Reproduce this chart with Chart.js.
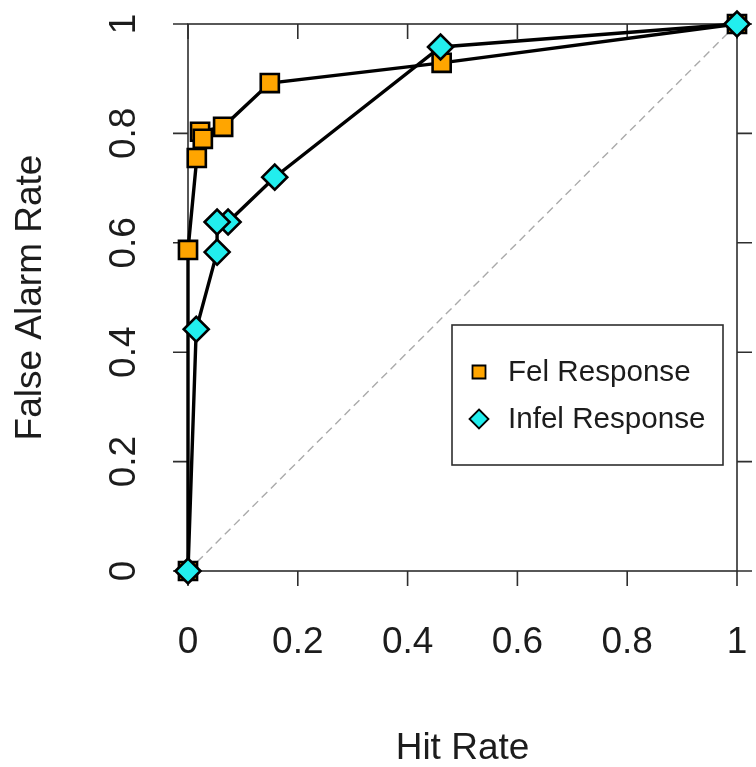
<!DOCTYPE html>
<html><head><meta charset="utf-8">
<script src="https://cdn.jsdelivr.net/npm/chart.js@4/dist/chart.umd.min.js"></script>
<style>html,body{margin:0;padding:0;background:#fff}canvas{display:block}</style>
</head><body>
<canvas id="c" width="756" height="767"></canvas>
<script>
// ---- data ----
const tickValues = [0, 0.2, 0.4, 0.6, 0.8, 1];
const tickLabels = ['0', '0.2', '0.4', '0.6', '0.8', '1'];
const felHit   = [1, 0.462, 0.149, 0.064, 0.022, 0.027, 0.016, 0, 0];
const felFA    = [1, 0.929, 0.892, 0.812, 0.803, 0.790, 0.755, 0.587, 0];
const infelHit = [1, 0.460, 0.158, 0.073, 0.053, 0.053, 0.015, 0];
const infelFA  = [1, 0.958, 0.720, 0.638, 0.638, 0.583, 0.442, 0];
const chanceLine = [0, 1];
const seriesNames = ['Fel Response', 'Infel Response'];
const xTitle = 'Hit Rate';
const yTitle = 'False Alarm Rate';

const FONT = "'Liberation Sans', Arial, Helvetica, sans-serif";
const TXT = '#1c1c1c';
const AX = '#2e2e2e';
const ORANGE = '#FFA500';
const CYAN = '#22EEEE';

const pts = (xs, ys) => xs.map((x, i) => ({x, y: ys[i]}));
const labelFor = v => { const i = tickValues.findIndex(t => Math.abs(t - v) < 1e-9); return i >= 0 ? tickLabels[i] : String(v); };

function drawMarker(ctx, style, x, y, r, fill, lw) {
  ctx.save();
  ctx.beginPath();
  if (style === 'rect') {
    ctx.rect(x - r, y - r, 2 * r, 2 * r);
  } else {
    ctx.moveTo(x, y - r); ctx.lineTo(x + r, y); ctx.lineTo(x, y + r); ctx.lineTo(x - r, y); ctx.closePath();
  }
  ctx.fillStyle = fill; ctx.fill();
  ctx.lineWidth = lw; ctx.strokeStyle = '#000'; ctx.stroke();
  ctx.restore();
}

const framePlugin = {
  id: 'frame',
  beforeDatasetsDraw(chart) {
    const {ctx, chartArea: a} = chart;
    const xs = chart.scales.x, ys = chart.scales.y;
    ctx.save();
    ctx.strokeStyle = AX; ctx.lineWidth = 1.6;
    ctx.strokeRect(a.left, a.top, a.right - a.left, a.bottom - a.top);
    const tl = 15;
    ctx.beginPath();
    xs.ticks.forEach(t => {
      const px = xs.getPixelForValue(t.value);
      ctx.moveTo(px, a.bottom); ctx.lineTo(px, a.bottom + tl);
      ctx.moveTo(px, a.top); ctx.lineTo(px, a.top + tl);
    });
    ys.ticks.forEach(t => {
      const py = ys.getPixelForValue(t.value);
      ctx.moveTo(a.left, py); ctx.lineTo(a.left - tl, py);
      ctx.moveTo(a.right, py); ctx.lineTo(a.right + tl, py);
    });
    ctx.stroke();
    ctx.fillStyle = TXT;
    ctx.font = '37px ' + FONT;
    ctx.textAlign = 'center';
    ctx.textBaseline = 'alphabetic';
    xs.ticks.forEach(t => {
      ctx.fillText(labelFor(t.value), xs.getPixelForValue(t.value), 653);
    });
    ys.ticks.forEach(t => {
      ctx.save();
      ctx.translate(135, ys.getPixelForValue(t.value));
      ctx.rotate(-Math.PI / 2);
      ctx.fillText(labelFor(t.value), 0, 0);
      ctx.restore();
    });
    ctx.restore();
  },
  afterDatasetsDraw(chart) {
    const {ctx} = chart;
    const bx = 452, by = 325, bw = 271, bh = 140;
    ctx.save();
    ctx.lineWidth = 1.6; ctx.strokeStyle = AX;
    ctx.strokeRect(bx, by, bw, bh);
    ctx.font = '29.6px ' + FONT;
    ctx.textAlign = 'left'; ctx.textBaseline = 'middle';
    const entries = chart.data.datasets.filter(d => d.inLegend).sort((p, q) => p.legendIndex - q.legendIndex);
    entries.forEach((d, i) => {
      const cy = 372 + i * 47;
      if (d.pointStyle === 'rect') drawMarker(ctx, 'rect', 479, cy, 6.5, d.pointBackgroundColor, 1.8);
      else drawMarker(ctx, 'diamond', 479, cy, 9.5, d.pointBackgroundColor, 1.8);
      ctx.fillStyle = TXT;
      ctx.fillText(d.label, 508, cy + 1);
    });
    ctx.restore();
  }
};

const setTicks = s => { s.ticks = tickValues.map(v => ({value: v})); };

new Chart(document.getElementById('c'), {
  type: 'scatter',
  data: {
    datasets: [
      {
        label: seriesNames[1], inLegend: true, legendIndex: 1,
        data: pts(infelHit, infelFA), showLine: true, order: 0, clip: false,
        borderColor: '#000', borderWidth: 3.4,
        pointStyle: 'rectRot', pointRadius: 12.5, pointHoverRadius: 12.5,
        pointBackgroundColor: CYAN, pointBorderColor: '#000', pointBorderWidth: 2.6
      },
      {
        label: seriesNames[0], inLegend: true, legendIndex: 0,
        data: pts(felHit, felFA), showLine: true, order: 1, clip: false,
        borderColor: '#000', borderWidth: 3.4,
        pointStyle: 'rect', pointRadius: 12.8, pointHoverRadius: 12.8,
        pointBackgroundColor: ORANGE, pointBorderColor: '#000', pointBorderWidth: 2.6
      },
      {
        label: 'chance', inLegend: false,
        data: pts(chanceLine, chanceLine), showLine: true, order: 2, clip: false,
        borderColor: '#aaaaaa', borderWidth: 1.4, borderDash: [8, 5],
        pointRadius: 0, pointHoverRadius: 0
      }
    ]
  },
  options: {
    responsive: false, animation: false, devicePixelRatio: 1,
    layout: {padding: {top: 24, right: 19, left: 0, bottom: 0}},
    plugins: {legend: {display: false}, tooltip: {enabled: false}},
    scales: {
      x: {
        type: 'linear', position: 'bottom', min: 0, max: 1,
        afterBuildTicks: setTicks,
        afterFit: s => { s.height = 196; },
        grid: {display: false}, border: {display: false},
        ticks: {display: false},
        title: {display: true, text: xTitle, color: TXT, font: {family: FONT, size: 37, lineHeight: 1}, padding: {top: 0, bottom: 0}}
      },
      y: {
        type: 'linear', position: 'left', min: 0, max: 1,
        afterBuildTicks: setTicks,
        afterFit: s => { s.width = 188; },
        grid: {display: false}, border: {display: false},
        ticks: {display: false},
        title: {display: true, text: yTitle, color: TXT, font: {family: FONT, size: 37, lineHeight: 1}, padding: {top: 12, bottom: 0}}
      }
    }
  },
  plugins: [framePlugin]
});
</script>
</body></html>
